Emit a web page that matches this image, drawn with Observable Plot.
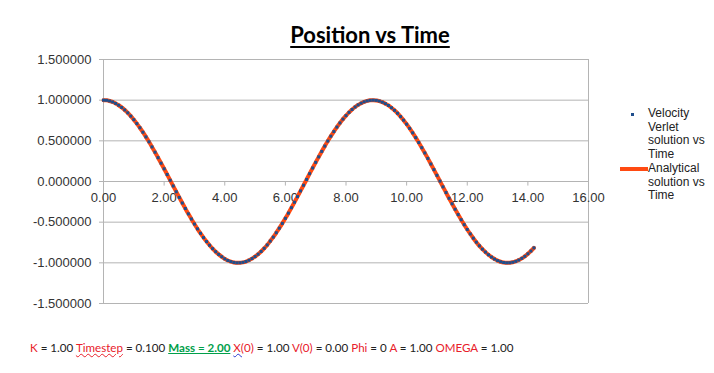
<!DOCTYPE html>
<html>
<head>
<meta charset="utf-8">
<script src="https://cdn.jsdelivr.net/npm/d3@7"></script>
<script src="https://cdn.jsdelivr.net/npm/@observablehq/plot@0.6"></script>
<style>
  html, body { margin: 0; padding: 0; background: #fff; }
  #wrap { position: relative; width: 714px; height: 373px; overflow: hidden; background: #fff; }
  #chart { position: absolute; left: 0; top: 0; }
  #title { position: absolute; left: 0; width: 740px; top: 21px; text-align: center;
    font: bold 22px Lato, "Open Sans", sans-serif; color: #000; text-decoration: underline; text-underline-offset: 3px; text-decoration-thickness: 2px; }
  #legend { position: absolute; left: 620px; top: 107px; font: 12px "Liberation Sans", Arial, sans-serif; color: #222; line-height: 13.7px; }
  .lg { position: relative; padding-left: 28px; }
  .sw-dot { position: absolute; left: 11px; top: 6px; width: 3px; height: 3px; background: #1f4e8c; }
  .sw-line { position: absolute; left: 0; top: 5px; width: 28px; height: 4px; background: #ff4a12; }
  #footer { position: absolute; left: 30px; top: 341px; font: 11.6px Lato, "Open Sans", sans-serif; color: #222; white-space: pre; }
  .r { color: #e8202a; }
  .g { color: #00a04a; font-weight: bold; text-decoration: underline; }
  .wr { text-decoration: underline wavy #e8202a; text-decoration-thickness: 1px; }
  .wb { text-decoration: underline wavy #2a3ad0; text-decoration-thickness: 1px; }
</style>
</head>
<body>
<div id="wrap">
  <div id="chart"></div>
  <div id="title">Position vs Time</div>
  <div id="legend">
    <div class="lg"><span class="sw-dot"></span>Velocity<br>Verlet<br>solution vs<br>Time</div>
    <div class="lg"><span class="sw-line"></span>Analytical<br>solution vs<br>Time</div>
  </div>
  <div id="footer"><span class="r">K</span> = 1.00 <span class="r wr">Timestep</span> = 0.100 <span class="g">Mass = 2.00</span> <span class="r"><span class="wb">X(</span>0)</span> = 1.00 <span class="r">V(0)</span> = 0.00 <span class="r">Phi</span> = 0 <span class="r">A</span> = 1.00 <span class="r">OMEGA</span> = 1.00</div>
</div>
<script>
const time = [
  0.0,0.1,0.2,0.3,0.4,0.5,0.6,0.7,0.8,0.9,
  1.0,1.1,1.2,1.3,1.4,1.5,1.6,1.7,1.8,1.9,
  2.0,2.1,2.2,2.3,2.4,2.5,2.6,2.7,2.8,2.9,
  3.0,3.1,3.2,3.3,3.4,3.5,3.6,3.7,3.8,3.9,
  4.0,4.1,4.2,4.3,4.4,4.5,4.6,4.7,4.8,4.9,
  5.0,5.1,5.2,5.3,5.4,5.5,5.6,5.7,5.8,5.9,
  6.0,6.1,6.2,6.3,6.4,6.5,6.6,6.7,6.8,6.9,
  7.0,7.1,7.2,7.3,7.4,7.5,7.6,7.7,7.8,7.9,
  8.0,8.1,8.2,8.3,8.4,8.5,8.6,8.7,8.8,8.9,
  9.0,9.1,9.2,9.3,9.4,9.5,9.6,9.7,9.8,9.9,
  10.0,10.1,10.2,10.3,10.4,10.5,10.6,10.7,10.8,10.9,
  11.0,11.1,11.2,11.3,11.4,11.5,11.6,11.7,11.8,11.9,
  12.0,12.1,12.2,12.3,12.4,12.5,12.6,12.7,12.8,12.9,
  13.0,13.1,13.2,13.3,13.4,13.5,13.6,13.7,13.8,13.9,
  14.0,14.1,14.2
];
// Velocity Verlet solution (dots) and analytical solution (line) overlap in the picture
const verlet = [
  1.000,0.998,0.990,0.978,0.960,0.938,0.911,0.880,0.844,0.804,
  0.760,0.712,0.661,0.606,0.548,0.488,0.425,0.360,0.293,0.225,
  0.156,0.086,0.015,-0.055,-0.126,-0.196,-0.265,-0.332,-0.398,-0.461,
  -0.523,-0.582,-0.637,-0.690,-0.739,-0.784,-0.826,-0.863,-0.896,-0.925,
  -0.951,-0.971,-0.985,-0.995,-1.000,-0.999,-0.994,-0.984,-0.968,-0.948,
  -0.923,-0.894,-0.860,-0.822,-0.780,-0.733,-0.684,-0.630,-0.574,-0.515,
  -0.453,-0.389,-0.322,-0.255,-0.186,-0.116,-0.046,0.025,0.096,0.166,
  0.235,0.303,0.370,0.435,0.497,0.557,0.614,0.669,0.720,0.767,
  0.810,0.850,0.885,0.916,0.942,0.963,0.980,0.991,0.998,1.000,
  0.997,0.989,0.975,0.957,0.935,0.907,0.875,0.839,0.798,0.754,
  0.705,0.653,0.598,0.540,0.479,0.416,0.351,0.284,0.215,0.146,
  0.076,0.005,-0.066,-0.136,-0.206,-0.274,-0.341,-0.407,-0.470,-0.531,
  -0.590,-0.645,-0.697,-0.746,-0.791,-0.832,-0.868,-0.901,-0.929,-0.954,
  -0.973,-0.987,-0.996,-1.000,-0.999,-0.993,-0.982,-0.966,-0.945,-0.920,
  -0.889,-0.855,-0.816
];
const analytical = [
  1.000,0.998,0.990,0.978,0.960,0.938,0.911,0.880,0.844,0.804,
  0.760,0.712,0.661,0.606,0.548,0.488,0.425,0.360,0.293,0.225,
  0.156,0.086,0.015,-0.055,-0.126,-0.196,-0.265,-0.332,-0.398,-0.461,
  -0.523,-0.582,-0.637,-0.690,-0.739,-0.784,-0.826,-0.863,-0.896,-0.925,
  -0.951,-0.971,-0.985,-0.995,-1.000,-0.999,-0.994,-0.984,-0.968,-0.948,
  -0.923,-0.894,-0.860,-0.822,-0.780,-0.733,-0.684,-0.630,-0.574,-0.515,
  -0.453,-0.389,-0.322,-0.255,-0.186,-0.116,-0.046,0.025,0.096,0.166,
  0.235,0.303,0.370,0.435,0.497,0.557,0.614,0.669,0.720,0.767,
  0.810,0.850,0.885,0.916,0.942,0.963,0.980,0.991,0.998,1.000,
  0.997,0.989,0.975,0.957,0.935,0.907,0.875,0.839,0.798,0.754,
  0.705,0.653,0.598,0.540,0.479,0.416,0.351,0.284,0.215,0.146,
  0.076,0.005,-0.066,-0.136,-0.206,-0.274,-0.341,-0.407,-0.470,-0.531,
  -0.590,-0.645,-0.697,-0.746,-0.791,-0.832,-0.868,-0.901,-0.929,-0.954,
  -0.973,-0.987,-0.996,-1.000,-0.999,-0.993,-0.982,-0.966,-0.945,-0.920,
  -0.889,-0.855,-0.816
];
const xTicks = [0, 2, 4, 6, 8, 10, 12, 14, 16];
const yTicks = [-1.5, -1.0, -0.5, 0, 0.5, 1.0, 1.5];

const rowsV = time.map((t, i) => ({t, x: verlet[i]}));
const rowsA = time.map((t, i) => ({t, x: analytical[i]}));
const tickLen = 0.05; // x-axis tick length in data units
const fmtY = d => d3.format(".6f")(d).replace("\u2212", "-");

const grid = "#b4b4b4";
const chart = Plot.plot({
  width: 714,
  height: 373,
  marginLeft: 103,
  marginRight: 126,
  marginTop: 59,
  marginBottom: 70,
  style: {fontFamily: "'Liberation Sans', Arial, sans-serif", fontSize: "13px", color: "#333", background: "#fff"},
  x: {domain: [0, 16], axis: null},
  y: {domain: [-1.5, 1.5], axis: null},
  marks: [
    Plot.gridY(yTicks, {stroke: grid, strokeOpacity: 1}),
    Plot.ruleX([0, 16], {stroke: grid}),
    Plot.axisY({ticks: yTicks, tickSize: 4, tickPadding: 8, tickFormat: fmtY, stroke: grid, fill: "#333", fontSize: 13, label: null}),
    Plot.link(xTicks, {x1: d => d, x2: d => d, y1: 0, y2: -tickLen, stroke: grid}),
    Plot.text(xTicks, {x: d => d, y: 0, dy: 16, text: d => d3.format(".2f")(d), fill: "#333", fontSize: 13}),
    Plot.line(rowsA, {x: "t", y: "x", stroke: "#ff4a12", strokeWidth: 4, curve: "catmull-rom"}),
    Plot.dot(rowsV, {x: "t", y: "x", symbol: "square", r: 1.7, fill: "#1f4e8c", stroke: null})
  ]
});
document.getElementById("chart").appendChild(chart);
</script>
</body>
</html>
